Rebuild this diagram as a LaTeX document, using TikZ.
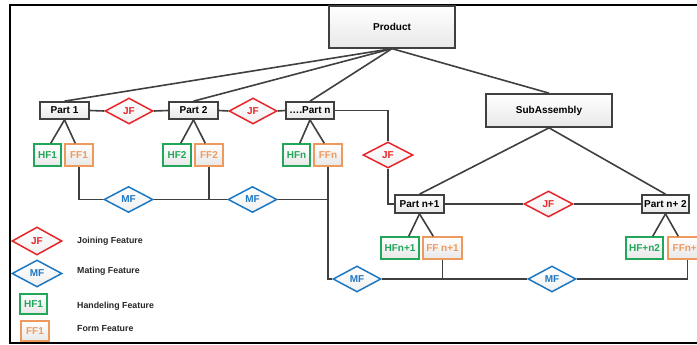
\documentclass[tikz,border=0pt]{standalone}
\usepackage{fontspec}
\setmainfont{Liberation Sans}
\usetikzlibrary{shapes.geometric,calc}
\definecolor{lnc}{HTML}{404040}
\definecolor{jfc}{HTML}{E8262A}
\definecolor{mfc}{HTML}{1E78C2}
\definecolor{hfc}{HTML}{22A65A}
\definecolor{ffc}{HTML}{EE9A5E}
\tikzset{
  lab/.style={font=\fontsize{10}{12}\selectfont\bfseries},
  boxbase/.style={rectangle, inner sep=0pt, top color=white, bottom color=gray!18, line width=1.5pt},
  partbox/.style={boxbase, draw=lnc, lab, text=black, minimum height=17pt, line width=1.7pt},
  bigbox/.style={boxbase, draw=lnc, lab, text=black, minimum width=126pt, line width=1.7pt},
  hfbox/.style={boxbase, draw=hfc, lab, text=hfc, minimum height=22pt},
  ffbox/.style={boxbase, draw=ffc, lab, text=ffc, minimum height=22pt},
  jfd/.style={diamond, inner sep=0pt, minimum width=48pt, minimum height=26pt, draw=jfc, line width=1.5pt, top color=white, bottom color=gray!12, lab, text=jfc},
  mfd/.style={diamond, inner sep=0pt, minimum width=48pt, minimum height=26pt, draw=mfc, line width=1.5pt, top color=white, bottom color=gray!12, lab, text=mfc},
  conn/.style={draw=lnc, line width=1.6pt},
  legtext/.style={anchor=west, inner sep=0pt, font=\fontsize{8.8}{10}\selectfont\bfseries, text=black!85},
}
\begin{document}
\begin{tikzpicture}[x=1pt,y=-1pt]
\useasboundingbox (0,0) rectangle (697,345);
\clip (0,0) rectangle (697,345);
\fill[white] (0,0) rectangle (697,345);
% frame
\draw[black, line width=2pt] (720,5.5) -- (9.5,5.5) -- (9.5,342.5) -- (720,342.5);

% main nodes
\node[bigbox, minimum height=42pt] (prod) at (392,26.8) {Product};
\node[bigbox, minimum height=33pt] (sub) at (549,110.5) {SubAssembly};

\node[partbox, minimum width=49pt] (p1) at (64.5,110.5) {Part 1};
\node[jfd] (jf1) at (129,111) {JF};
\node[partbox, minimum width=49pt] (p2) at (193.5,110.5) {Part 2};
\node[jfd] (jf2) at (253,111) {JF};
\node[partbox, minimum width=48pt] (pn) at (310,110.5) {….Part n};
\node[jfd, minimum width=50pt] (jf3) at (388,155) {JF};

\node[partbox, minimum width=49pt, minimum height=18pt] (pn1) at (419.5,204) {Part n+1};
\node[jfd, minimum width=49pt] (jf4) at (548.5,204) {JF};
\node[partbox, minimum width=47pt, minimum height=18pt] (pn2) at (665.5,204) {Part n+ 2};

% features
\node[hfbox, minimum width=27pt] (hf1) at (47.5,155) {HF1};
\node[ffbox, minimum width=28pt] (ff1) at (79,155) {FF1};
\node[hfbox, minimum width=28pt] (hf2) at (177,155) {HF2};
\node[ffbox, minimum width=28pt] (ff2) at (209,155) {FF2};
\node[hfbox, minimum width=27pt] (hfn) at (296.5,155) {HFn};
\node[ffbox, minimum width=28pt] (ffn) at (328,155) {FFn};

\node[hfbox, minimum width=38pt] (hfn1) at (400,248) {HFn+1};
\node[ffbox, minimum width=39pt] (ffn1) at (442.5,248) {FF n+1};
\node[hfbox, minimum width=37pt] (hfn2) at (644.5,248) {HF+n2};
\node[ffbox, minimum width=39pt] (ffn2) at (687.5,248) {FFn+2};

% mating
\node[mfd, minimum width=49pt] (mf1) at (128.5,199.5) {MF};
\node[mfd, minimum width=49pt] (mf2) at (252.5,199.5) {MF};
\node[mfd] (mf3) at (357,279) {MF};
\node[mfd] (mf4) at (552,279) {MF};

% connectors: product and subassembly
\draw[conn] (prod.south) -- (p1.north);
\draw[conn] (prod.south) -- (p2.north);
\draw[conn] (prod.south) -- (pn.north);
\draw[conn] (prod.south) -- (sub.north);
\draw[conn] (sub.south) -- (pn1.north);
\draw[conn] (sub.south) -- (pn2.north);

% joining chain
\draw[conn] (p1.east) -- (jf1.west);
\draw[conn] (jf1.east) -- (p2.west);
\draw[conn] (p2.east) -- (jf2.west);
\draw[conn] (jf2.east) -- (pn.west);
\draw[conn] (pn.east) -| (jf3.north);
\draw[conn] (jf3.south) |- (pn1.west);
\draw[conn] (pn1.east) -- (jf4.west);
\draw[conn] (jf4.east) -- (pn2.west);

% part to features
\foreach \p/\h/\f in {p1/hf1/ff1, p2/hf2/ff2, pn/hfn/ffn, pn1/hfn1/ffn1, pn2/hfn2/ffn2}{
  \draw[conn] (\p.south) -- ([xshift=-11pt]\h.north east);
  \draw[conn] (\p.south) -- ([xshift=11pt]\f.north west);
}

% mating chain
\coordinate (j2) at (ff2.south |- mf1.east);
\coordinate (j3) at (ffn.south |- mf2.east);
\coordinate (j4) at (ffn1.south |- mf3.east);
\draw[conn] (ff1.south) |- (mf1.west);
\draw[conn] (mf1.east) -- (j2) -- (mf2.west);
\draw[conn] (ff2.south) -- (j2);
\draw[conn] (mf2.east) -- (j3);
\draw[conn] (ffn.south) |- (mf3.west);
\draw[conn] (mf3.east) -- (j4) -- (mf4.west);
\draw[conn] (ffn1.south) -- (j4);
\draw[conn] (mf4.east) -| (ffn2.south);

% legend
\node[jfd, minimum width=50pt, minimum height=28pt] (ljf) at (37,241) {JF};
\node[legtext] (tjf) at (77,241.5) {Joining Feature};
\node[mfd, minimum width=50pt, minimum height=27pt] (lmf) at (37,273.5) {MF};
\node[legtext] (tmf) at (77,271.5) {Mating Feature};
\node[hfbox, minimum width=27pt, minimum height=20pt] (lhf) at (33.5,304) {HF1};
\node[legtext] (thf) at (77,306.5) {Handeling Feature};
\node[ffbox, minimum width=28pt, minimum height=20pt] (lff) at (35,331) {FF1};
\node[legtext] (tff) at (77,329) {Form Feature};
\end{tikzpicture}
\end{document}
